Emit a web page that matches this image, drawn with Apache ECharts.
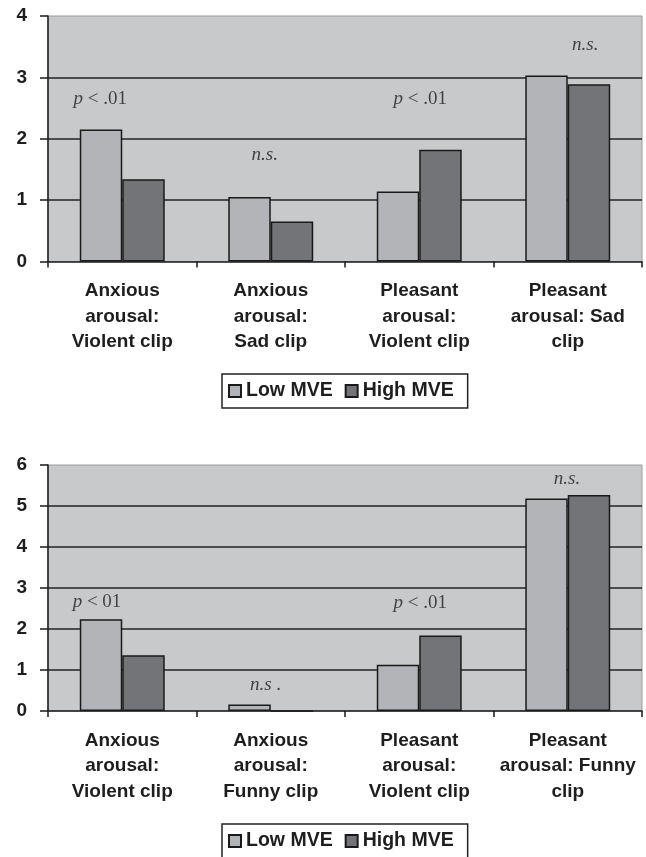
<!DOCTYPE html>
<html>
<head>
<meta charset="utf-8">
<script src="https://cdn.jsdelivr.net/npm/echarts@6/dist/echarts.min.js"></script>
<style>
html,body{margin:0;padding:0;background:#fff;}
#c{width:646px;height:857px;}
</style>
</head>
<body>
<div id="c"></div>
<script>
// ---- data ----
var seriesNames = ['Low MVE', 'High MVE'];

var topCategories = [
  'Anxious\narousal:\nViolent clip',
  'Anxious\narousal:\nSad clip',
  'Pleasant\narousal:\nViolent clip',
  'Pleasant\narousal: Sad\nclip'
];
var topLow  = [2.15, 1.05, 1.14, 3.03];
var topHigh = [1.34, 0.65, 1.82, 2.89];
var topTicks = [0, 1, 2, 3, 4];

var bottomCategories = [
  'Anxious\narousal:\nViolent clip',
  'Anxious\narousal:\nFunny clip',
  'Pleasant\narousal:\nViolent clip',
  'Pleasant\narousal: Funny\nclip'
];
var bottomLow  = [2.24, 0.16, 1.13, 5.18];
var bottomHigh = [1.36, 0, 1.84, 5.27];
var bottomTicks = [0, 1, 2, 3, 4, 5, 6];

// annotations: [x in category units, y value, text]
var topNotes = [
  [0.352, 2.65, '{i|p} < .01'],
  [1.46, 1.73, '{i|n.s.}'],
  [2.507, 2.65, '{i|p} < .01'],
  [3.618, 3.53, '{i|n.s.}']
];
var bottomNotes = [
  [0.33, 2.66, '{i|p} < 01'],
  [1.465, 0.63, '{i|n.s }.'],
  [2.507, 2.64, '{i|p} < .01'],
  [3.495, 5.67, '{i|n.s.}']
];

// ---- styles ----
var sans = '"Liberation Sans", Arial, sans-serif';
var serif = '"Liberation Serif", "Times New Roman", serif';
var textColor = '#1e1e1e';
var lowColor = '#b3b4b7';
var highColor = '#737478';
var edge = '#1a1a1a';

function catAxis(gridIndex, cats) {
  return {
    type: 'category', gridIndex: gridIndex, data: cats,
    axisLine: {show: true, lineStyle: {color: edge, width: 1.5}},
    axisTick: {show: true, length: 6, lineStyle: {color: edge, width: 1.5}},
    axisLabel: {
      interval: 0, margin: 17, fontFamily: sans, fontWeight: 'bold',
      fontSize: 19, lineHeight: 25.5, color: textColor, align: 'center'
    },
    splitLine: {show: false}
  };
}
function valAxis(gridIndex, ticks) {
  return {
    type: 'value', gridIndex: gridIndex,
    min: ticks[0], max: ticks[ticks.length - 1], interval: 1,
    axisLine: {show: true, lineStyle: {color: edge, width: 1.5}},
    axisTick: {show: true, length: 8, inside: false, lineStyle: {color: edge, width: 1.5}},
    axisLabel: {
      margin: 21, fontFamily: sans, fontWeight: 'bold', fontSize: 19, color: textColor
    },
    splitLine: {show: true, showMaxLine: false, showMinLine: false,
      lineStyle: {color: '#222', width: 1.5}}
  };
}
function noteAxis(gridIndex) {
  return {type: 'value', gridIndex: gridIndex, min: 0, max: 4, show: false,
    axisLine: {show: false}, splitLine: {show: false}};
}
function barSeries(name, data, color, xi, yi) {
  return {
    type: 'bar', name: name, data: data, xAxisIndex: xi, yAxisIndex: yi,
    barGap: '0%', barCategoryGap: '42.8%', silent: true,
    itemStyle: {color: color, borderColor: edge, borderWidth: 1.5}
  };
}
function noteSeries(notes, xi, yi) {
  return {
    type: 'scatter', xAxisIndex: xi, yAxisIndex: yi, symbolSize: 0, silent: true,
    data: notes.map(function (n) { return {value: [n[0], n[1]], note: n[2]}; }),
    label: {
      show: true, position: 'inside',
      formatter: function (p) { return p.data.note; },
      fontFamily: serif, fontSize: 19, color: textColor,
      rich: {i: {fontFamily: serif, fontStyle: 'italic', fontSize: 19, color: textColor}}
    }
  };
}
function legend(top) {
  return {
    data: seriesNames, left: 222, top: top, orient: 'horizontal',
    icon: 'rect', itemWidth: 12, itemHeight: 12, itemGap: 12,
    padding: [7, 14, 7, 6], borderColor: '#222', borderWidth: 1.5,
    backgroundColor: '#fff',
    textStyle: {fontFamily: sans, fontWeight: 'bold', fontSize: 19.5, color: textColor},
    selectedMode: false
  };
}

var chart = echarts.init(document.getElementById('c'), null, {renderer: 'canvas'});
chart.setOption({
  animation: false,
  backgroundColor: '#fff',
  grid: [
    {left: 48, right: 4, top: 16, height: 245.5, show: true,
     backgroundColor: '#c8c9cb', borderColor: '#9c9c9c', borderWidth: 1},
    {left: 48, right: 4, top: 465, height: 246, show: true,
     backgroundColor: '#c8c9cb', borderColor: '#9c9c9c', borderWidth: 1}
  ],
  xAxis: [catAxis(0, topCategories), catAxis(1, bottomCategories), noteAxis(0), noteAxis(1)],
  yAxis: [valAxis(0, topTicks), valAxis(1, bottomTicks)],
  legend: [legend(374), legend(824)],
  series: [
    barSeries(seriesNames[0], topLow, lowColor, 0, 0),
    barSeries(seriesNames[1], topHigh, highColor, 0, 0),
    barSeries(seriesNames[0], bottomLow, lowColor, 1, 1),
    barSeries(seriesNames[1], bottomHigh, highColor, 1, 1),
    noteSeries(topNotes, 2, 0),
    noteSeries(bottomNotes, 3, 1)
  ]
});
</script>
</body>
</html>
